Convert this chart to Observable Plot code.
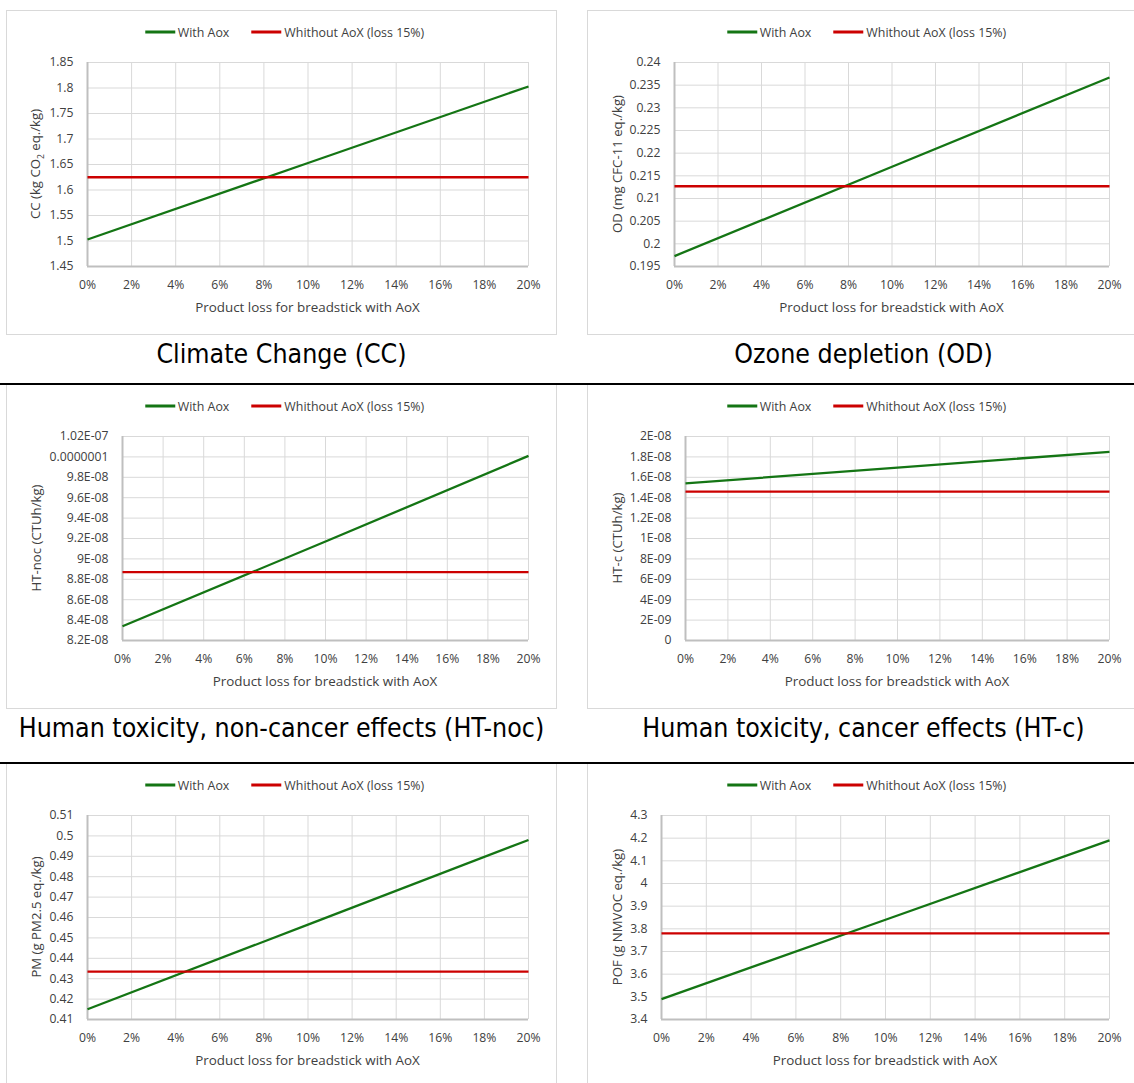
<!DOCTYPE html>
<html>
<head>
<meta charset="utf-8">
<script src="https://cdn.jsdelivr.net/npm/d3@7"></script>
<script src="https://cdn.jsdelivr.net/npm/@observablehq/plot@0.6"></script>
<style>
  html, body { margin: 0; padding: 0; background: #fff; }
  #page { position: relative; width: 1134px; height: 1083px; overflow: hidden; background: #fff; }
  .box { position: absolute; border: 1px solid #d9d9d9; box-sizing: border-box; background: #fff; }
  .sep { position: absolute; left: 0; width: 1134px; height: 2px; background: #000; }
  .legend { position: absolute; transform: translate(-50%, -50%); display: flex; align-items: center;
            font-family: "Open Sans", sans-serif; font-size: 12.4px; color: #404040; white-space: nowrap; }
  .legend .sw { display: inline-block; width: 30px; height: 2.4px; margin-right: 3px; }
  .legend .item { display: flex; align-items: center; }
  .legend .item + .item { margin-left: 22px; }
  .ylab { position: absolute; transform: translate(-50%, -50%) rotate(-90deg); white-space: nowrap;
          font-family: "Open Sans", sans-serif; font-size: 13.2px; color: #404040; }
  .xlab { position: absolute; transform: translate(-50%, -50%); white-space: nowrap;
          font-family: "Open Sans", sans-serif; font-size: 13.4px; color: #404040; }
  .title { position: absolute; transform: translate(-50%, -50%); white-space: nowrap;
           font-family: "DejaVu Sans Condensed", "DejaVu Sans", sans-serif; font-size: 26.5px; color: #000; }
  .plotwrap { position: absolute; }
</style>
</head>
<body>
<div id="page"></div>
<script>
// ---------- DATA ----------
const seriesNames = ["With Aox", "Whithout AoX (loss 15%)"];
const xTicks = [0, 0.02, 0.04, 0.06, 0.08, 0.1, 0.12, 0.14, 0.16, 0.18, 0.2];
const xTickLabels = ["0%", "2%", "4%", "6%", "8%", "10%", "12%", "14%", "16%", "18%", "20%"];
const xTitle = "Product loss for breadstick with AoX";

const titles = [
  "Climate Change (CC)",
  "Ozone depletion (OD)",
  "Human toxicity, non-cancer effects (HT-noc)",
  "Human toxicity, cancer effects (HT-c)",
  "",
  ""
];
const yTitles = [
  "CC (kg CO<sub style='font-size:8.5px'>2</sub> eq./kg)",
  "OD (mg CFC-11 eq./kg)",
  "HT-noc (CTUh/kg)",
  "HT-c (CTUh/kg)",
  "PM (g PM2.5 eq./kg)",
  "POF (g NMVOC eq./kg)"
];

// loss points
const lossPoints = [0, 0.1, 0.2];
// With AoX values at 0%, 10%, 20%
const withAox = [
  [1.503, 1.653, 1.803],
  [0.1973, 0.217, 0.2367],
  [8.34e-8, 9.17e-8, 1.001e-7],
  [1.54e-8, 1.695e-8, 1.85e-8],
  [0.415, 0.4565, 0.498],
  [3.49, 3.84, 4.19]
];
// Without AoX (constant, loss 15%)
const withoutAox = [1.625, 0.2127, 8.87e-8, 1.46e-8, 0.4335, 3.78];

const yTicks = [
  [1.45, 1.5, 1.55, 1.6, 1.65, 1.7, 1.75, 1.8, 1.85],
  [0.195, 0.2, 0.205, 0.21, 0.215, 0.22, 0.225, 0.23, 0.235, 0.24],
  [8.2e-8, 8.4e-8, 8.6e-8, 8.8e-8, 9e-8, 9.2e-8, 9.4e-8, 9.6e-8, 9.8e-8, 1e-7, 1.02e-7],
  [0, 2e-9, 4e-9, 6e-9, 8e-9, 1e-8, 1.2e-8, 1.4e-8, 1.6e-8, 1.8e-8, 2e-8],
  [0.41, 0.42, 0.43, 0.44, 0.45, 0.46, 0.47, 0.48, 0.49, 0.5, 0.51],
  [3.4, 3.5, 3.6, 3.7, 3.8, 3.9, 4, 4.1, 4.2, 4.3]
];
const yTickLabels = [
  ["1.45", "1.5", "1.55", "1.6", "1.65", "1.7", "1.75", "1.8", "1.85"],
  ["0.195", "0.2", "0.205", "0.21", "0.215", "0.22", "0.225", "0.23", "0.235", "0.24"],
  ["8.2E-08", "8.4E-08", "8.6E-08", "8.8E-08", "9E-08", "9.2E-08", "9.4E-08", "9.6E-08", "9.8E-08", "0.0000001", "1.02E-07"],
  ["0", "2E-09", "4E-09", "6E-09", "8E-09", "1E-08", "1.2E-08", "1.4E-08", "1.6E-08", "1.8E-08", "2E-08"],
  ["0.41", "0.42", "0.43", "0.44", "0.45", "0.46", "0.47", "0.48", "0.49", "0.5", "0.51"],
  ["3.4", "3.5", "3.6", "3.7", "3.8", "3.9", "4", "4.1", "4.2", "4.3"]
];

// ---------- LAYOUT ----------
const colors = ["#147514", "#cc0000"];
const rowTops = [10, 384, 763];
const boxCols = [{left: 6, width: 551}, {left: 587, width: 553}];
const plotCols = [
  {l: 87, r: 528}, {l: 674, r: 1109},
  {l: 122, r: 528}, {l: 685, r: 1109},
  {l: 87, r: 528}, {l: 661, r: 1109}
];
const yLabelX = [36, 617];
const separators = [383, 762];

const page = document.getElementById("page");

for (let i = 0; i < 6; i++) {
  const row = Math.floor(i / 2), col = i % 2;
  const top = rowTops[row];
  const bc = boxCols[col];
  const pc = plotCols[i];

  const box = document.createElement("div");
  box.className = "box";
  Object.assign(box.style, {left: bc.left + "px", top: top + "px", width: bc.width + "px", height: "325px"});
  page.appendChild(box);

  // legend
  const leg = document.createElement("div");
  leg.className = "legend";
  leg.style.left = (bc.left + bc.width / 2 + 3) + "px";
  leg.style.top = (top + 22) + "px";
  seriesNames.forEach((n, k) => {
    const it = document.createElement("span");
    it.className = "item";
    it.innerHTML = `<span class="sw" style="background:${colors[k]}"></span><span>${n}</span>`;
    leg.appendChild(it);
  });
  page.appendChild(leg);

  // data table
  const data = [];
  lossPoints.forEach((x, j) => data.push({loss: x, value: withAox[i][j], series: seriesNames[0]}));
  [xTicks[0], xTicks[xTicks.length - 1]].forEach(x => data.push({loss: x, value: withoutAox[i], series: seriesNames[1]}));

  const yt = yTicks[i];
  const ylabMap = new Map(yt.map((v, k) => [v, yTickLabels[i][k]]));
  const xlabMap = new Map(xTicks.map((v, k) => [v, xTickLabels[k]]));
  const plotTop = top + 52, plotBottom = top + 256;
  const mL = 80, mR = 16, mT = 8, mB = 30;
  const W = pc.r - pc.l, H = plotBottom - plotTop;

  const chart = Plot.plot({
    width: W + mL + mR,
    height: H + mT + mB,
    marginLeft: mL, marginRight: mR, marginTop: mT, marginBottom: mB,
    style: {fontFamily: "'Open Sans', sans-serif", fontSize: "12.2px", color: "#404040", background: "transparent", overflow: "visible"},
    x: {domain: [xTicks[0], xTicks[xTicks.length - 1]]},
    y: {domain: [yt[0], yt[yt.length - 1]]},
    color: {domain: seriesNames, range: colors},
    marks: [
      Plot.gridX(xTicks, {stroke: "#d9d9d9", strokeOpacity: 1, strokeWidth: 1}),
      Plot.gridY(yt, {stroke: "#d9d9d9", strokeOpacity: 1, strokeWidth: 1}),
      Plot.ruleX([xTicks[0]], {stroke: "#bfbfbf", strokeWidth: 2}),
      Plot.ruleY([yt[0]], {stroke: "#bfbfbf", strokeWidth: 2}),
      Plot.axisX(xTicks, {tickSize: 0, tickPadding: 14, tickFormat: d => xlabMap.get(d), label: null, fill: "#404040"}),
      Plot.axisY(yt, {tickSize: 0, tickPadding: 14, tickFormat: d => ylabMap.get(d), label: null, fill: "#404040"}),
      Plot.line(data, {x: "loss", y: "value", z: "series", stroke: "series", strokeWidth: 2.3, strokeLinecap: "butt"})
    ]
  });
  const wrap = document.createElement("div");
  wrap.className = "plotwrap";
  wrap.style.left = (pc.l - mL) + "px";
  wrap.style.top = (plotTop - mT) + "px";
  wrap.appendChild(chart);
  page.appendChild(wrap);

  // axis titles
  const xl = document.createElement("div");
  xl.className = "xlab";
  xl.textContent = xTitle;
  xl.style.left = ((pc.l + pc.r) / 2) + "px";
  xl.style.top = (top + 297) + "px";
  page.appendChild(xl);

  const yl = document.createElement("div");
  yl.className = "ylab";
  yl.innerHTML = yTitles[i];
  yl.style.left = yLabelX[col] + "px";
  yl.style.top = ((plotTop + plotBottom) / 2) + "px";
  page.appendChild(yl);

  if (titles[i]) {
    const t = document.createElement("div");
    t.className = "title";
    t.textContent = titles[i];
    t.style.left = (bc.left + bc.width / 2) + "px";
    t.style.top = (top + 343) + "px";
    page.appendChild(t);
  }
}

separators.forEach(y => {
  const s = document.createElement("div");
  s.className = "sep";
  s.style.top = y + "px";
  page.appendChild(s);
});
</script>
</body>
</html>
